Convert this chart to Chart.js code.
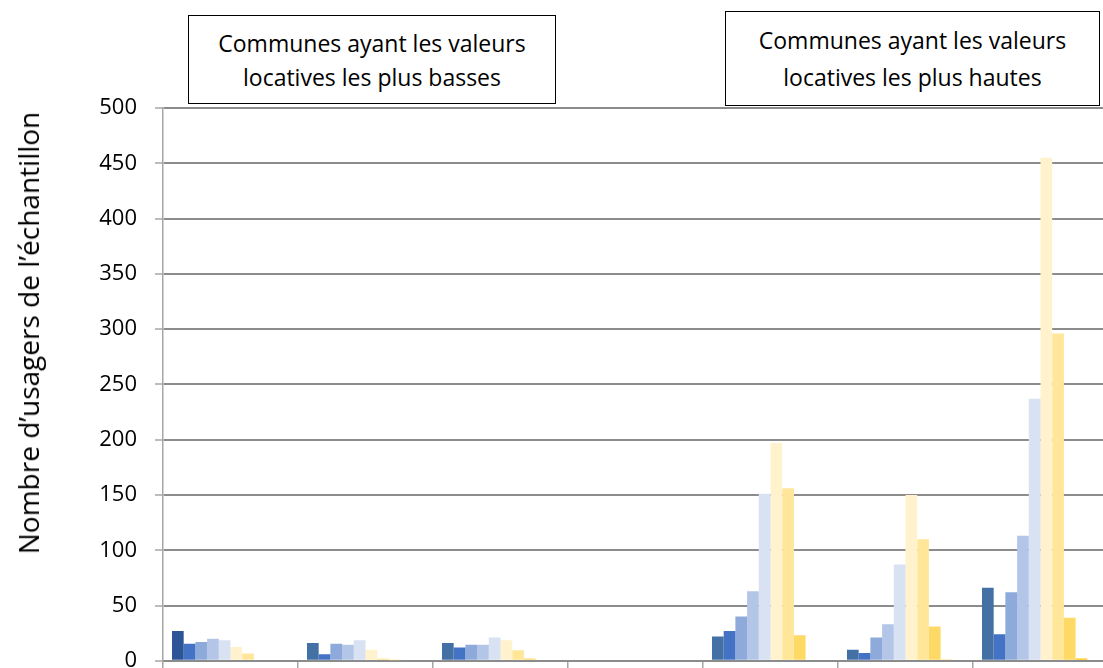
<!DOCTYPE html>
<html lang="fr">
<head>
<meta charset="utf-8">
<title>Nombre d'usagers de l'échantillon</title>
<script src="https://cdn.jsdelivr.net/npm/chart.js@4.4.1/dist/chart.umd.min.js"></script>
<style>
  html, body { margin: 0; padding: 0; background: #fff; overflow: hidden; }
  body { width: 1103px; height: 668px; position: relative; font-family: 'Open Sans', sans-serif; }
  #wrap { position: absolute; left: 0; top: 0; width: 1110px; height: 692px; }
  .note {
    position: absolute; box-sizing: border-box; border: 1.5px solid #000; background: #fff;
    display: flex; align-items: center; justify-content: center; text-align: center;
    font-size: 23px; color: #000;
  }
  #yTitle {
    position: absolute; left: 28px; top: 333px; transform: translate(-50%, -50%) rotate(-90deg);
    white-space: nowrap; font-size: 28px; color: #000;
  }
</style>
</head>
<body>
<div id="wrap"><canvas id="chart"></canvas></div>
<div class="note" style="left:188px; top:15px; width:368px; height:89px; line-height:34px;">Communes ayant les valeurs<br>locatives les plus basses</div>
<div class="note" style="left:725px; top:11px; width:375px; height:95px; line-height:37px;">Communes ayant les valeurs<br>locatives les plus hautes</div>
<div id="yTitle">Nombre d’usagers de l’échantillon</div>

<script>
// --- DATA ---
const categories = ["1", "2", "3", "4", "5", "6", "7"];
const seriesNames = ["Série 1", "Série 2", "Série 3", "Série 4", "Série 5", "Série 6", "Série 7", "Série 8", "Série 9", "Série 10"];

const serie1 = [27, 16, 16, 0, 22, 10, 66];
const serie2 = [15.5, 6, 12, 0, 27, 7, 24];
const serie3 = [17, 15.5, 14.5, 0, 40, 21, 62];
const serie4 = [20, 14.5, 14.5, 0, 63, 33, 113];
const serie5 = [18.5, 18.5, 21, 0, 151, 87, 237];
const serie6 = [12.5, 10, 18.5, 0, 197, 150, 455];
const serie7 = [6.5, 2, 9.5, 0, 156, 110, 296];
const serie8 = [0, 0.5, 2, 0, 23, 31, 39];
const serie9 = [0, 0, 0, 0, 0, 0.7, 2];
const serie10 = [0, 0, 0, 0, 0, 0, 0];

const yTicks = [0, 50, 100, 150, 200, 250, 300, 350, 400, 450, 500];

// --- STYLE ---
const seriesColors = [
    ["#2B5596", "#4371A6", "#4371A6", "#4371A6", "#4371A6", "#4371A6", "#4371A6"],
    "#4472C4", "#8EAADB", "#B4C6E7", "#D9E2F3",
    "#FFF2CC", "#FFE699", "#FFD966", "#FFC000", "rgba(0,0,0,0)"
];
const allSeries = [serie1, serie2, serie3, serie4, serie5, serie6, serie7, serie8, serie9, serie10];

const datasets = allSeries.map((values, i) => ({
    label: seriesNames[i],
    data: values,
    backgroundColor: seriesColors[i],
    borderWidth: 0,
    categoryPercentage: 0.867,
    barPercentage: 1
}));

new Chart(document.getElementById("chart"), {
    type: "bar",
    data: { labels: categories, datasets: datasets },
    options: {
        responsive: true,
        maintainAspectRatio: false,
        animation: false,
        layout: { padding: { top: 108, right: 2, left: 0, bottom: 0 } },
        plugins: { legend: { display: false }, tooltip: { enabled: false } },
        scales: {
            x: {
                ticks: { display: false },
                grid: { drawOnChartArea: false, offset: true, tickLength: 8, color: "#A6A6A6", lineWidth: 1.5 },
                border: { display: true, color: "#8C8C8C", width: 2 },
                afterFit: s => { s.height = 20; }
            },
            y: {
                min: 0, max: 500,
                afterBuildTicks: s => { s.ticks = yTicks.map(v => ({ value: v })); },
                ticks: { padding: 18, color: "#000", font: { family: "'Open Sans', sans-serif", size: 22 } },
                grid: { color: "#8C8C8C", lineWidth: 2, tickLength: 8, tickColor: "#A6A6A6", tickWidth: 1.5 },
                border: { display: true, color: "#A6A6A6", width: 1.5 },
                afterFit: s => { s.width = 163; }
            }
        }
    }
});
</script>
</body>
</html>
